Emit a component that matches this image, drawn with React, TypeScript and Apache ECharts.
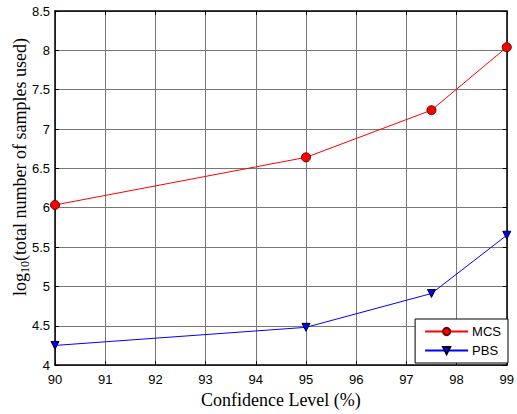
import React, { useEffect, useRef } from "react";
import * as echarts from "echarts";

const confidence = [90, 95, 97.5, 99];
const mcsValues = [6.035, 6.64, 7.24, 8.04];
const pbsValues = [4.25, 4.48, 4.91, 5.65];
const seriesNames = ["MCS", "PBS"];
const xTitle = "Confidence Level (%)";

export default function App() {
  const ref = useRef<HTMLDivElement>(null);
  useEffect(() => {
    const chart = echarts.init(ref.current!, null, { renderer: "svg" });
    const sans = "Liberation Sans";
    const serif = "Liberation Serif";
    const tickLabel = { fontFamily: sans, fontSize: 13, color: "#000" };
    chart.setOption({
      animation: false,
      backgroundColor: "#fff",
      grid: { left: 55, top: 11, width: 457, height: 358 },
      legend: {
        right: 9,
        top: 319,
        orient: "vertical",
        backgroundColor: "#fff",
        borderColor: "#000",
        borderWidth: 1,
        borderRadius: 0,
        padding: [6, 7, 6, 9],
        itemWidth: 43,
        itemHeight: 9,
        itemGap: 6,
        textStyle: { fontFamily: sans, fontSize: 13, color: "#000", padding: [0, 0, 0, -1] },
        data: seriesNames,
      },
      graphic: [
        {
          type: "text",
          x: 20,
          y: 167,
          rotation: Math.PI / 2,
          style: {
            text: "{n|log}{s|10}{n|(total number of samples used)}",
            align: "center",
            verticalAlign: "middle",
            fill: "#000",
            rich: {
              n: { fontFamily: serif, fontSize: 18, fill: "#000", lineHeight: 22, verticalAlign: "middle" },
              s: { fontFamily: serif, fontSize: 12, fill: "#000", lineHeight: 22, verticalAlign: "bottom", padding: [8, 0, 0, 0] },
            },
          },
        },
      ],
      xAxis: [
        {
          type: "value",
          min: 90,
          max: 99,
          interval: 1,
          name: xTitle,
          nameLocation: "middle",
          nameGap: 24,
          nameTextStyle: { fontFamily: serif, fontSize: 18, color: "#000" },
          axisLine: { lineStyle: { color: "#000", width: 1.5 } },
          axisTick: { inside: true, length: 4, lineStyle: { color: "#000" } },
          axisLabel: { ...tickLabel, margin: 8 },
          splitLine: { show: true, lineStyle: { color: "#777", width: 1 } },
        },
        {
          type: "value",
          position: "top",
          min: 90,
          max: 99,
          interval: 1,
          axisLine: { show: true, lineStyle: { color: "#000", width: 1.5 } },
          axisTick: { inside: true, length: 4, lineStyle: { color: "#000" } },
          axisLabel: { show: false },
          splitLine: { show: false },
        },
      ],
      yAxis: [
        {
          type: "value",
          min: 4,
          max: 8.5,
          interval: 0.5,
          axisLine: { show: true, lineStyle: { color: "#000", width: 1.5 } },
          axisTick: { inside: true, length: 4, lineStyle: { color: "#000" } },
          axisLabel: { ...tickLabel, margin: 5 },
          splitLine: { show: true, lineStyle: { color: "#777", width: 1 } },
        },
        {
          type: "value",
          position: "right",
          min: 4,
          max: 8.5,
          interval: 0.5,
          axisLine: { show: true, lineStyle: { color: "#000", width: 1.5 } },
          axisTick: { inside: true, length: 4, lineStyle: { color: "#000" } },
          axisLabel: { show: false },
          splitLine: { show: false },
        },
      ],
      series: [
        {
          name: seriesNames[0],
          type: "line",
          data: confidence.map((c, i) => [c, mcsValues[i]]),
          symbol: "circle",
          symbolSize: 9,
          lineStyle: { color: "#ff0000", width: 1 },
          itemStyle: { color: "#ff0000", borderColor: "#600", borderWidth: 1 },
        },
        {
          name: seriesNames[1],
          type: "line",
          data: confidence.map((c, i) => [c, pbsValues[i]]),
          symbol: "triangle",
          symbolRotate: 180,
          symbolSize: 8,
          lineStyle: { color: "#0000ff", width: 1 },
          itemStyle: { color: "#0000ff", borderColor: "#002", borderWidth: 1 },
        },
      ],
    });
    return () => chart.dispose();
  }, []);
  return (
    <div
      ref={ref}
      style={{ position: "fixed", left: 0, top: 0, width: 517, height: 414 }}
    />
  );
}
